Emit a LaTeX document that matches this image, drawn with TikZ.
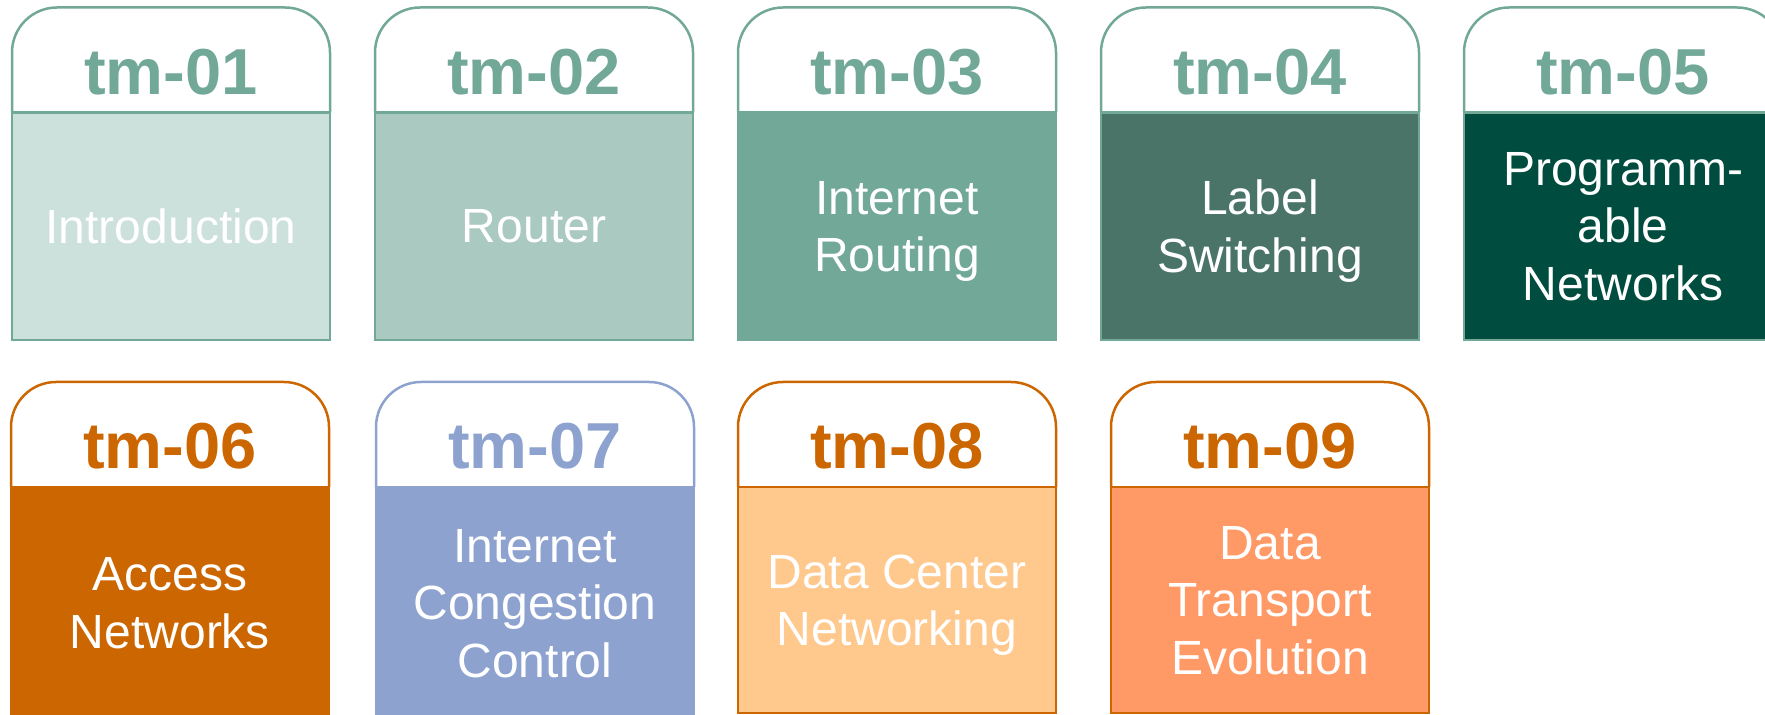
\documentclass[tikz,border=0pt]{standalone}
\usepackage{fontspec}
\setmainfont{Liberation Sans}
\definecolor{tealln}{HTML}{72A898}
\definecolor{fillA}{HTML}{CCE0DC}
\definecolor{fillB}{HTML}{AAC9C1}
\definecolor{fillC}{HTML}{72A898}
\definecolor{fillD}{HTML}{4A7468}
\definecolor{fillE}{HTML}{004D40}
\definecolor{orangeln}{HTML}{CC6600}
\definecolor{blueln}{HTML}{8EA2D0}
\definecolor{fillH}{HTML}{FFC88C}
\definecolor{fillI}{HTML}{FF9966}
\newcommand\mybox[8]{%
  \node[bodybox, draw=#5, fill=#6, minimum height={#3-#4}] (b#1) at ({#2+159},{(#3+#4)/2}) {#8};
  \filldraw[line width=2.5pt, draw=#5, fill=white, rounded corners=45pt]
    (b#1.north west) -- ++(0,105) -- ([yshift=105pt]b#1.north east) -- (b#1.north east);
  \draw[line width=2.5pt, draw=#5] (b#1.north west) -- (b#1.north east);
  \node[hdrtext, text=#5] (h#1) at ([yshift=18pt]b#1.north) {#7};
}
\begin{document}
\begin{tikzpicture}[x=1pt,y=1pt,
  bodybox/.style={draw, line width=2.5pt, minimum width=318pt, inner sep=0pt, outer sep=0pt,
    text depth=0pt, align=center, text=white, font=\fontsize{48}{57.5}\selectfont},
  hdrtext/.style={anchor=base, inner sep=0pt, font=\fontsize{65}{70}\selectfont\bfseries}]
\useasboundingbox (0,0) rectangle (1765,715);
\fill[white] (0,0) rectangle (1765,715);
\mybox{1}{12}{602.5}{375}{tealln}{fillA}{tm-01}{Introduction}
\mybox{2}{375}{602.5}{375}{tealln}{fillB}{tm-02}{Router}
\mybox{3}{738}{602.5}{375}{tealln}{fillC}{tm-03}{Internet\\Routing}
\mybox{4}{1101}{602.5}{375}{tealln}{fillD}{tm-04}{Label\\Switching}
\mybox{5}{1464}{602.5}{375}{tealln}{fillE}{tm-05}{Programm-\\able\\Networks}
\mybox{6}{11}{228}{-4}{orangeln}{orangeln}{tm-06}{Access\\Networks}
\mybox{7}{376}{228}{-4}{blueln}{blueln}{tm-07}{Internet\\Congestion\\Control}
\mybox{8}{738}{228}{2}{orangeln}{fillH}{tm-08}{Data Center\\Networking}
\mybox{9}{1111}{228}{2}{orangeln}{fillI}{tm-09}{Data\\Transport\\Evolution}
\end{tikzpicture}
\end{document}
